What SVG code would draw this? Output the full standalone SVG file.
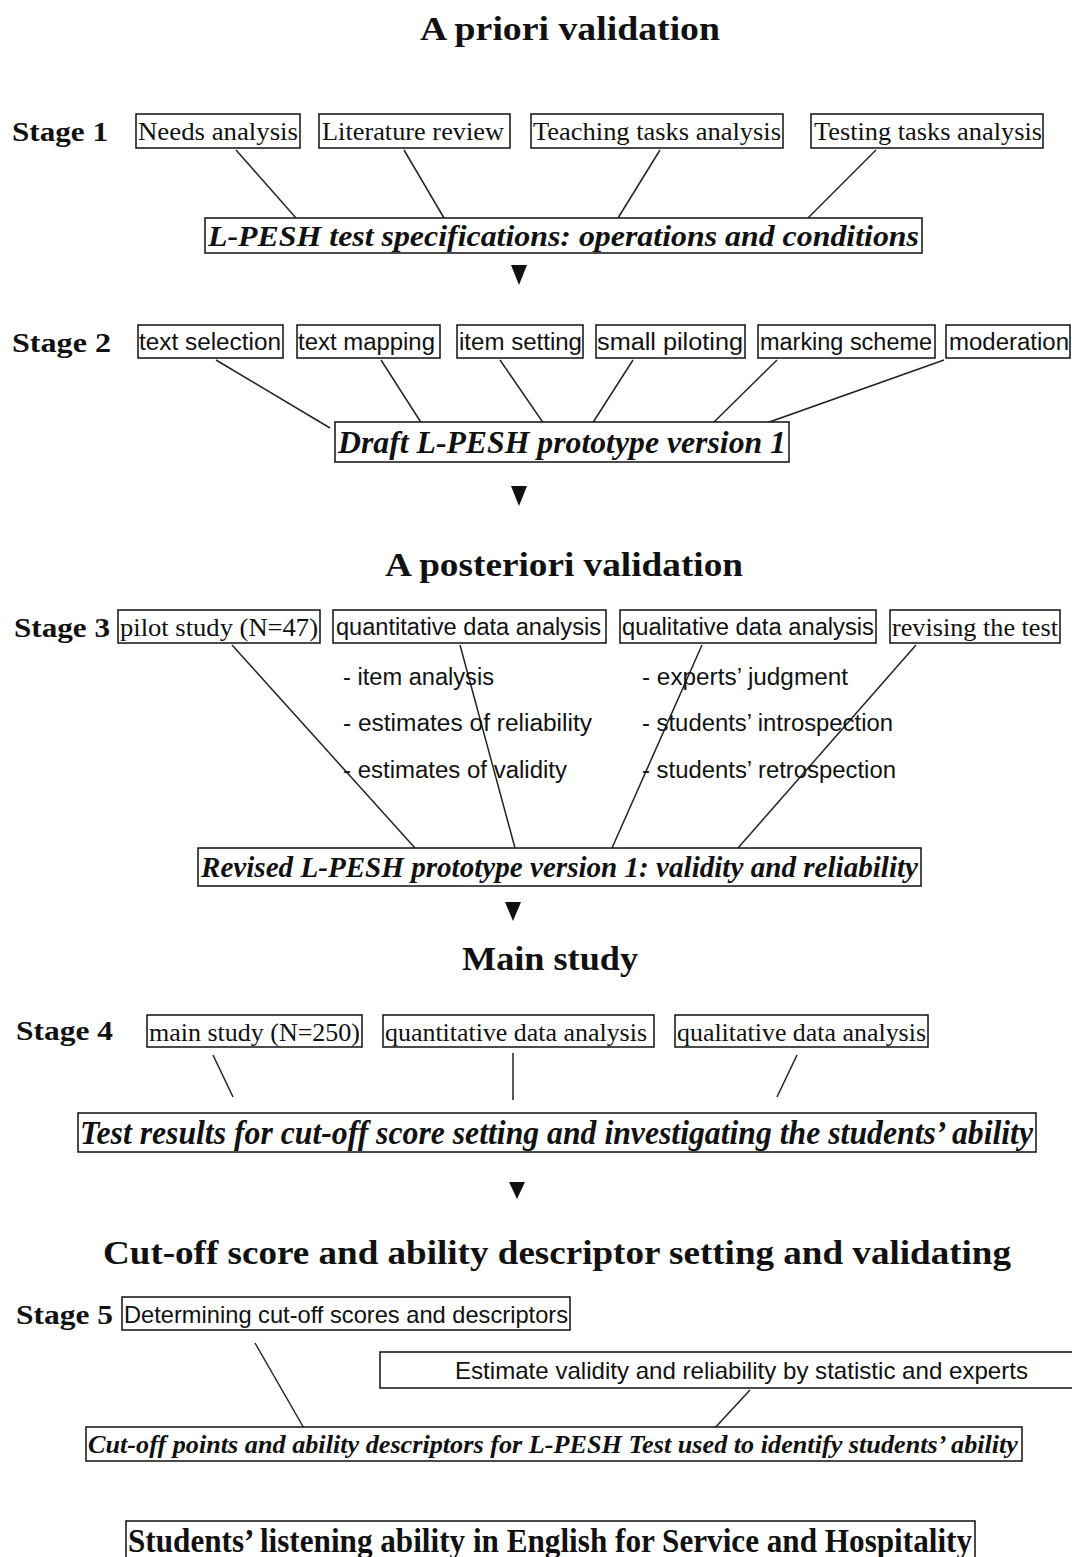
<svg xmlns="http://www.w3.org/2000/svg" width="1072" height="1557" viewBox="0 0 1072 1557">
<style>
.bg{fill:#fff}
.box{fill:#fff;stroke:#111;stroke-width:1.5}
.t{fill:#111}
.serif{font-family:"Liberation Serif","Times New Roman",serif}
.sans{font-family:"Liberation Sans",Arial,sans-serif}
.title{font-family:"Liberation Serif","Times New Roman",serif;font-weight:bold;font-size:34px;fill:#111}
.stage{font-family:"Liberation Serif","Times New Roman",serif;font-weight:bold;font-size:28px;fill:#111}
.bi{font-weight:bold;font-style:italic}
.it{font-style:italic}
.conn{stroke:#222;stroke-width:1.5;fill:none}
.arrow{fill:#111}
</style>
<rect class="bg" x="0" y="0" width="1072" height="1557"/>

<g id="connectors">
  <line class="conn" x1="236" y1="150" x2="296" y2="218"/>
  <line class="conn" x1="404" y1="150" x2="444" y2="218"/>
  <line class="conn" x1="660" y1="150" x2="618" y2="218"/>
  <line class="conn" x1="876" y1="150" x2="808" y2="218"/>
  <polygon class="arrow" points="511,265 527,265 519,285"/>

  <line class="conn" x1="216" y1="360" x2="330" y2="428"/>
  <line class="conn" x1="381" y1="360" x2="422" y2="424"/>
  <line class="conn" x1="500" y1="360" x2="544" y2="424"/>
  <line class="conn" x1="633" y1="360" x2="592" y2="424"/>
  <line class="conn" x1="777" y1="360" x2="712" y2="424"/>
  <line class="conn" x1="944" y1="360" x2="758" y2="426"/>
  <polygon class="arrow" points="511,486 527,486 519,506"/>

  <line class="conn" x1="232" y1="645" x2="415" y2="848"/>
  <line class="conn" x1="460" y1="645" x2="515" y2="848"/>
  <line class="conn" x1="702" y1="645" x2="612" y2="848"/>
  <line class="conn" x1="916" y1="645" x2="738" y2="848"/>
  <polygon class="arrow" points="505,902 521,902 513,921"/>

  <line class="conn" x1="213" y1="1055" x2="233" y2="1097"/>
  <line class="conn" x1="513" y1="1053" x2="513" y2="1100"/>
  <line class="conn" x1="797" y1="1055" x2="777" y2="1097"/>
  <polygon class="arrow" points="509,1182 525,1182 517,1199"/>

  <line class="conn" x1="255" y1="1343" x2="305" y2="1430"/>
  <line class="conn" x1="750" y1="1390" x2="713" y2="1430"/>
</g>

<g id="title-apriori"><text class="title" x="420" y="40" textLength="300" lengthAdjust="spacingAndGlyphs">A priori validation</text></g>

<g id="stage1-label"><text class="stage" x="12" y="141" textLength="96" lengthAdjust="spacingAndGlyphs">Stage 1</text></g>
<g id="n-needs"><rect class="box" x="136" y="114" width="164" height="34"/><text class="t serif" font-size="25" x="138" y="140" textLength="160" lengthAdjust="spacingAndGlyphs">Needs analysis</text></g>
<g id="n-literature"><rect class="box" x="319" y="114" width="191" height="34"/><text class="t serif" font-size="25" x="322" y="140" textLength="182" lengthAdjust="spacingAndGlyphs">Literature review</text></g>
<g id="n-teaching"><rect class="box" x="531" y="114" width="252" height="34"/><text class="t serif" font-size="25" x="533" y="140" textLength="248" lengthAdjust="spacingAndGlyphs">Teaching tasks analysis</text></g>
<g id="n-testing"><rect class="box" x="811" y="114" width="232" height="34"/><text class="t serif" font-size="25" x="814" y="140" textLength="228" lengthAdjust="spacingAndGlyphs">Testing tasks analysis</text></g>
<g id="n-spec"><rect class="box" x="205" y="218" width="717" height="35"/><text class="t serif bi" font-size="29" x="208" y="246" textLength="711" lengthAdjust="spacingAndGlyphs">L-PESH test specifications: operations and conditions</text></g>

<g id="stage2-label"><text class="stage" x="12" y="352" textLength="99" lengthAdjust="spacingAndGlyphs">Stage 2</text></g>
<g id="n-textsel"><rect class="box" x="138" y="325" width="145" height="33"/><text class="t sans" font-size="23" x="139" y="350" textLength="142" lengthAdjust="spacingAndGlyphs">text selection</text></g>
<g id="n-textmap"><rect class="box" x="297" y="325" width="143" height="33"/><text class="t sans" font-size="23" x="298" y="350" textLength="137" lengthAdjust="spacingAndGlyphs">text mapping</text></g>
<g id="n-itemset"><rect class="box" x="457" y="325" width="126" height="33"/><text class="t sans" font-size="23" x="459" y="350" textLength="123" lengthAdjust="spacingAndGlyphs">item setting</text></g>
<g id="n-smallpilot"><rect class="box" x="596" y="325" width="149" height="33"/><text class="t sans" font-size="23" x="597" y="350" textLength="146" lengthAdjust="spacingAndGlyphs">small piloting</text></g>
<g id="n-marking"><rect class="box" x="758" y="325" width="177" height="33"/><text class="t sans" font-size="23" x="760" y="350" textLength="172" lengthAdjust="spacingAndGlyphs">marking scheme</text></g>
<g id="n-moderation"><rect class="box" x="946" y="325" width="124" height="33"/><text class="t sans" font-size="23" x="949" y="350" textLength="120" lengthAdjust="spacingAndGlyphs">moderation</text></g>
<g id="n-draft"><rect class="box" x="335" y="422" width="454" height="40"/><text class="t serif bi" font-size="31" x="338" y="453" textLength="448" lengthAdjust="spacingAndGlyphs">Draft L-PESH prototype version 1</text></g>

<g id="title-aposteriori"><text class="title" x="385" y="576" textLength="358" lengthAdjust="spacingAndGlyphs">A posteriori validation</text></g>

<g id="stage3-label"><text class="stage" x="14" y="637" textLength="96" lengthAdjust="spacingAndGlyphs">Stage 3</text></g>
<g id="n-pilot"><rect class="box" x="118" y="610" width="202" height="33"/><text class="t serif" font-size="25" x="120" y="636" textLength="198" lengthAdjust="spacingAndGlyphs">pilot study (N=47)</text></g>
<g id="n-quant3"><rect class="box" x="333" y="610" width="273" height="33"/><text class="t sans" font-size="23" x="336" y="635" textLength="265" lengthAdjust="spacingAndGlyphs">quantitative data analysis</text></g>
<g id="n-qual3"><rect class="box" x="620" y="610" width="256" height="33"/><text class="t sans" font-size="23" x="622" y="635" textLength="252" lengthAdjust="spacingAndGlyphs">qualitative data analysis</text></g>
<g id="n-revising"><rect class="box" x="890" y="610" width="170" height="33"/><text class="t serif" font-size="25" x="892" y="636" textLength="166" lengthAdjust="spacingAndGlyphs">revising the test</text></g>
<g id="quant-items">
  <text class="t sans" font-size="23" x="343" y="685" textLength="151" lengthAdjust="spacingAndGlyphs">- item analysis</text>
  <text class="t sans" font-size="23" x="343" y="731" textLength="249" lengthAdjust="spacingAndGlyphs">- estimates of reliability</text>
  <text class="t sans" font-size="23" x="343" y="778" textLength="224" lengthAdjust="spacingAndGlyphs">- estimates of validity</text>
</g>
<g id="qual-items">
  <text class="t sans" font-size="23" x="642" y="685" textLength="206" lengthAdjust="spacingAndGlyphs">- experts’ judgment</text>
  <text class="t sans" font-size="23" x="642" y="731" textLength="251" lengthAdjust="spacingAndGlyphs">- students’ introspection</text>
  <text class="t sans" font-size="23" x="642" y="778" textLength="254" lengthAdjust="spacingAndGlyphs">- students’ retrospection</text>
</g>
<g id="n-revised"><rect class="box" x="198" y="848" width="723" height="38"/><text class="t serif bi" font-size="29" x="201" y="877" textLength="717" lengthAdjust="spacingAndGlyphs">Revised L-PESH prototype version 1: validity and reliability</text></g>

<g id="title-main"><text class="title" x="462" y="970" textLength="176" lengthAdjust="spacingAndGlyphs">Main study</text></g>

<g id="stage4-label"><text class="stage" font-size="30" x="16" y="1040" textLength="97" lengthAdjust="spacingAndGlyphs">Stage 4</text></g>
<g id="n-mainstudy"><rect class="box" x="147" y="1015" width="215" height="32"/><text class="t serif" font-size="26" x="149" y="1041" textLength="211" lengthAdjust="spacingAndGlyphs">main study (N=250)</text></g>
<g id="n-quant4"><rect class="box" x="383" y="1015" width="271" height="32"/><text class="t serif" font-size="26" x="385" y="1041" textLength="262" lengthAdjust="spacingAndGlyphs">quantitative data analysis</text></g>
<g id="n-qual4"><rect class="box" x="675" y="1015" width="253" height="32"/><text class="t serif" font-size="26" x="677" y="1041" textLength="249" lengthAdjust="spacingAndGlyphs">qualitative data analysis</text></g>
<g id="n-testresults"><rect class="box" x="78" y="1113" width="958" height="39"/><text class="t serif bi" font-size="33" x="80" y="1144" textLength="953" lengthAdjust="spacingAndGlyphs">Test results for cut-off score setting and investigating the students’ ability</text></g>

<g id="title-cutoff"><text class="title" font-size="38" x="103" y="1264" textLength="908" lengthAdjust="spacingAndGlyphs">Cut-off score and ability descriptor setting and validating</text></g>

<g id="stage5-label"><text class="stage" font-size="30" x="16" y="1324" textLength="97" lengthAdjust="spacingAndGlyphs">Stage 5</text></g>
<g id="n-determining"><rect class="box" x="122" y="1297" width="448" height="33"/><text class="t sans" font-size="24" x="124" y="1323" textLength="444" lengthAdjust="spacingAndGlyphs">Determining cut-off scores and descriptors</text></g>
<g id="n-estimate"><rect class="box" x="380" y="1352" width="700" height="36"/><text class="t sans" font-size="24" x="455" y="1379" textLength="573" lengthAdjust="spacingAndGlyphs">Estimate validity and reliability by statistic and experts</text></g>
<g id="n-cutoffpoints"><rect class="box" x="86" y="1427" width="936" height="34"/><text class="t serif bi" font-size="26" x="88" y="1453" textLength="930" lengthAdjust="spacingAndGlyphs">Cut-off points and ability descriptors for L-PESH Test used to identify students’ ability</text></g>

<g id="n-final"><rect class="box" x="126" y="1521" width="849" height="40"/><text class="t serif" font-weight="bold" font-size="33" x="128" y="1552" textLength="844" lengthAdjust="spacingAndGlyphs">Students’ listening ability in English for Service and Hospitality</text></g>
</svg>
